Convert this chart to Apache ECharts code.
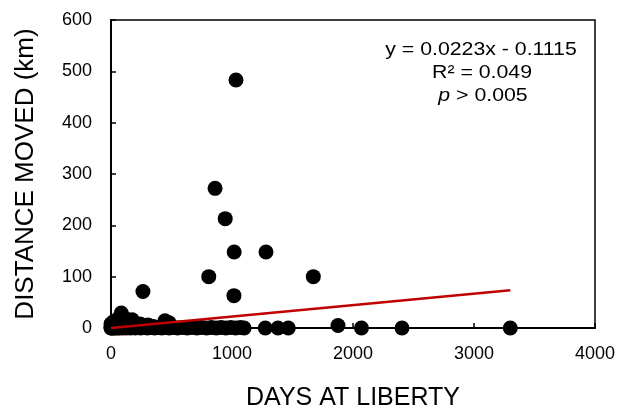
<!DOCTYPE html>
<html><head><meta charset="utf-8">
<script src="https://cdn.jsdelivr.net/npm/echarts@6/dist/echarts.min.js"></script>
<style>html,body{margin:0;padding:0;background:#fff}#c{width:619px;height:416px}</style>
</head><body><div id="c"></div>
<script>
// Days at liberty (x) and distance moved in km (y)
const daysAtLiberty = [
  0, 0, 3, 8, 12, 18, 25, 30, 35, 45, 55, 60, 70, 85, 95, 110, 125, 140, 160, 180,
  200, 220, 245, 270, 300, 330, 360, 390, 420, 450, 480, 510, 550, 590, 630, 670,
  710, 750, 790, 830, 870, 910, 950, 990, 1030, 1070, 1100, 1275, 1380, 1465,
  2070, 2405, 3300,
  0, 20, 40, 60, 85, 110, 175, 240, 305, 350, 446, 480, 1876,
  264, 808, 860, 944, 1016, 1018, 1033, 1281, 1672
];
const distanceMoved = [
  0, 1, 0, 2, 0, 1, 0, 2, 0, 1, 0, 2, 0, 1, 0, 1, 0, 1, 0, 1,
  0, 1, 0, 1, 0, 1, 0, 1, 0, 1, 0, 1, 0, 1, 0, 1,
  0, 1, 0, 1, 0, 1, 0, 1, 0, 1, 0, 0, 0, 0,
  0, 0, 0,
  8, 12, 5, 18, 29, 20, 16, 8, 6, 3, 14, 10, 5,
  71, 100, 272, 213, 63, 148, 483, 148, 100
];
const xTicks = [0, 1000, 2000, 3000, 4000];
const yTicks = [0, 100, 200, 300, 400, 500, 600];
const trendSlope = 0.0223, trendIntercept = -0.1115;
const trendX = [0, 3300];
const annotationLines = ['y = 0.0223x - 0.1115', 'R² = 0.049', 'p', ' > 0.005'];

const points = daysAtLiberty.map((d, i) => [d, distanceMoved[i]]);
const trend = trendX.map(x => [x, trendSlope * x + trendIntercept]);

const chart = echarts.init(document.getElementById('c'));
const FONT = 'Liberation Sans, Arial, sans-serif';
const annStyle = { fontFamily: FONT, fontSize: 19, fill: '#000', align: 'center', verticalAlign: 'middle' };
chart.setOption({
  animation: false,
  grid: { left: 111, right: 24, top: 20, bottom: 83, show: true, borderColor: '#000', borderWidth: 1.5, containLabel: false },
  xAxis: {
    type: 'value', min: xTicks[0], max: xTicks[xTicks.length - 1], interval: 1000,
    name: 'DAYS AT LIBERTY', nameLocation: 'middle', nameGap: 58,
    nameTextStyle: { fontFamily: FONT, fontSize: 25, color: '#000' },
    axisLine: { show: true, lineStyle: { color: '#000', width: 2 } },
    axisTick: { show: true, inside: true, length: 5, lineStyle: { color: '#000', width: 1.5 } },
    axisLabel: { fontFamily: FONT, fontSize: 18, color: '#000', margin: 17, formatter: v => String(v) },
    splitLine: { show: false }
  },
  yAxis: {
    type: 'value', min: yTicks[0], max: yTicks[yTicks.length - 1], interval: 100,
    name: 'DISTANCE MOVED (km)', nameLocation: 'middle', nameGap: 72,
    nameTextStyle: { fontFamily: FONT, fontSize: 26, color: '#000' },
    axisLine: { show: true, lineStyle: { color: '#000', width: 2 } },
    axisTick: { show: true, inside: true, length: 5, lineStyle: { color: '#000', width: 1.5 } },
    axisLabel: { fontFamily: FONT, fontSize: 18, color: '#000', margin: 19, formatter: v => String(v) },
    splitLine: { show: false }
  },
  series: [
    { type: 'scatter', data: points, symbol: 'circle', symbolSize: 15, itemStyle: { color: '#000', opacity: 1 }, z: 3, clip: false },
    { type: 'line', data: trend, symbol: 'none', lineStyle: { color: '#C00000', width: 2.5 }, z: 5 }
  ],
  graphic: [
    { type: 'text', x: 481, y: 50, scaleX: 1.12, z: 10, style: Object.assign({ text: annotationLines[0] }, annStyle) },
    { type: 'text', x: 482, y: 73, scaleX: 1.12, z: 10, style: Object.assign({ text: annotationLines[1] }, annStyle) },
    { type: 'text', x: 483, y: 96, scaleX: 1.12, z: 10, style: Object.assign({
        text: '{i|' + annotationLines[2] + '}{n|' + annotationLines[3] + '}',
        rich: { i: { fontStyle: 'italic', fontFamily: FONT, fontSize: 19 }, n: { fontFamily: FONT, fontSize: 19 } }
      }, annStyle) }
  ]
});
</script></body></html>
